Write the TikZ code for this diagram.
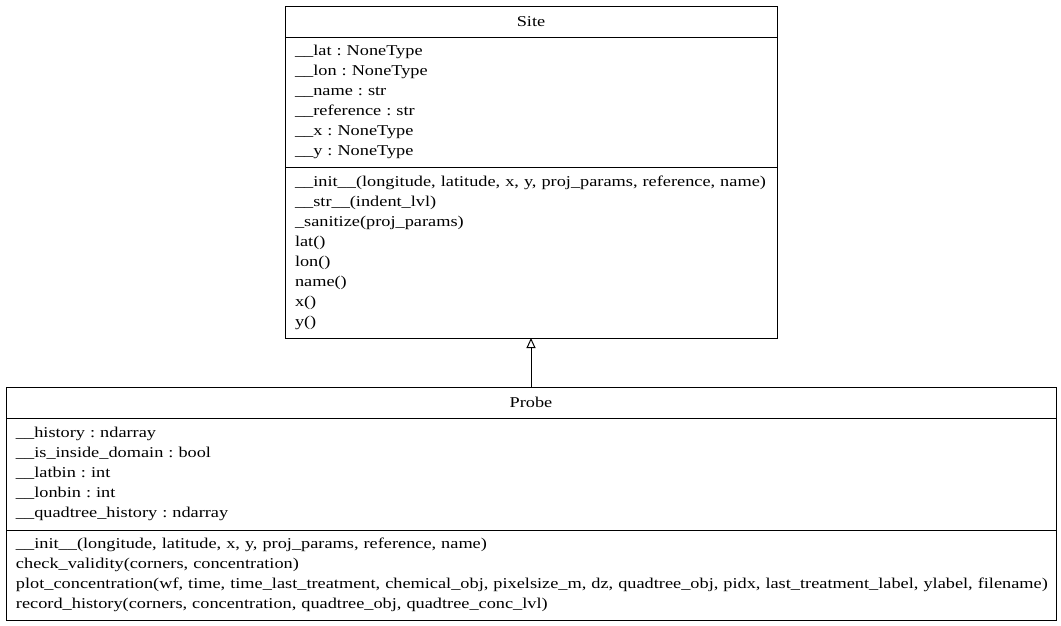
\documentclass[tikz,border=0pt]{standalone}
\usepackage{fontspec}
\setmainfont[FakeStretch=1.22]{Liberation Serif}
\usetikzlibrary{arrows.meta,positioning}
\frenchspacing

\newcommand{\umlfont}{\fontsize{15}{20}\selectfont}

\begin{document}
\begin{tikzpicture}[x=1pt, y=-1pt, line width=1pt,
    classtitle/.style={draw, rectangle, inner sep=0pt, outer sep=0pt,
        align=center, font=\umlfont},
    classpart/.style={draw, rectangle, inner xsep=10pt, inner ysep=0pt,
        outer sep=0pt, align=left, font=\umlfont},
    inherit/.style={-{Triangle[open, length=10pt, width=9pt]}, line width=1pt}]

    % Page frame
    \useasboundingbox (0,0) rectangle (1061,625);

    % Class Site: title, attributes, methods
    \node[classtitle, anchor=north west, minimum width=492pt, minimum height=31pt]
        (sitetitle) at (285,6) {Site};
    \node[classpart, below=0pt of sitetitle, minimum width=492pt, text width=472pt,
        minimum height=130pt] (siteattrs) {%
        \_\_lat : NoneType\\
        \_\_lon : NoneType\\
        \_\_name : str\\
        \_\_reference : str\\
        \_\_x : NoneType\\
        \_\_y : NoneType};
    \node[classpart, below=0pt of siteattrs, minimum width=492pt, text width=472pt,
        minimum height=171pt] (siteops) {%
        \_\_init\_\_(longitude, latitude, x, y, proj\_params, reference, name)\\
        \_\_str\_\_(indent\_lvl)\\
        \_sanitize(proj\_params)\\
        lat()\\
        lon()\\
        name()\\
        x()\\
        y()};

    % Class Probe: title, attributes, methods
    \node[classtitle, anchor=north west, minimum width=1050pt, minimum height=31pt]
        (probetitle) at (6,387) {Probe};
    \node[classpart, below=0pt of probetitle, minimum width=1050pt, text width=1030pt,
        minimum height=112pt] (probeattrs) {%
        \_\_history : ndarray\\
        \_\_is\_inside\_domain : bool\\
        \_\_latbin : int\\
        \_\_lonbin : int\\
        \_\_quadtree\_history : ndarray};
    \node[classpart, below=0pt of probeattrs, minimum width=1050pt, text width=1030pt,
        minimum height=90pt] (probeops) {%
        \_\_init\_\_(longitude, latitude, x, y, proj\_params, reference, name)\\
        check\_validity(corners, concentration)\\
        \makebox[1030pt][l]{plot\_concentration(wf, time, time\_last\_treatment, chemical\_obj, pixelsize\_m, dz, quadtree\_obj, pidx, last\_treatment\_label, ylabel, filename)}\\
        record\_history(corners, concentration, quadtree\_obj, quadtree\_conc\_lvl)};

    % Probe inherits from Site
    \draw[inherit] (probetitle.north) -- (siteops.south);
\end{tikzpicture}
\end{document}
